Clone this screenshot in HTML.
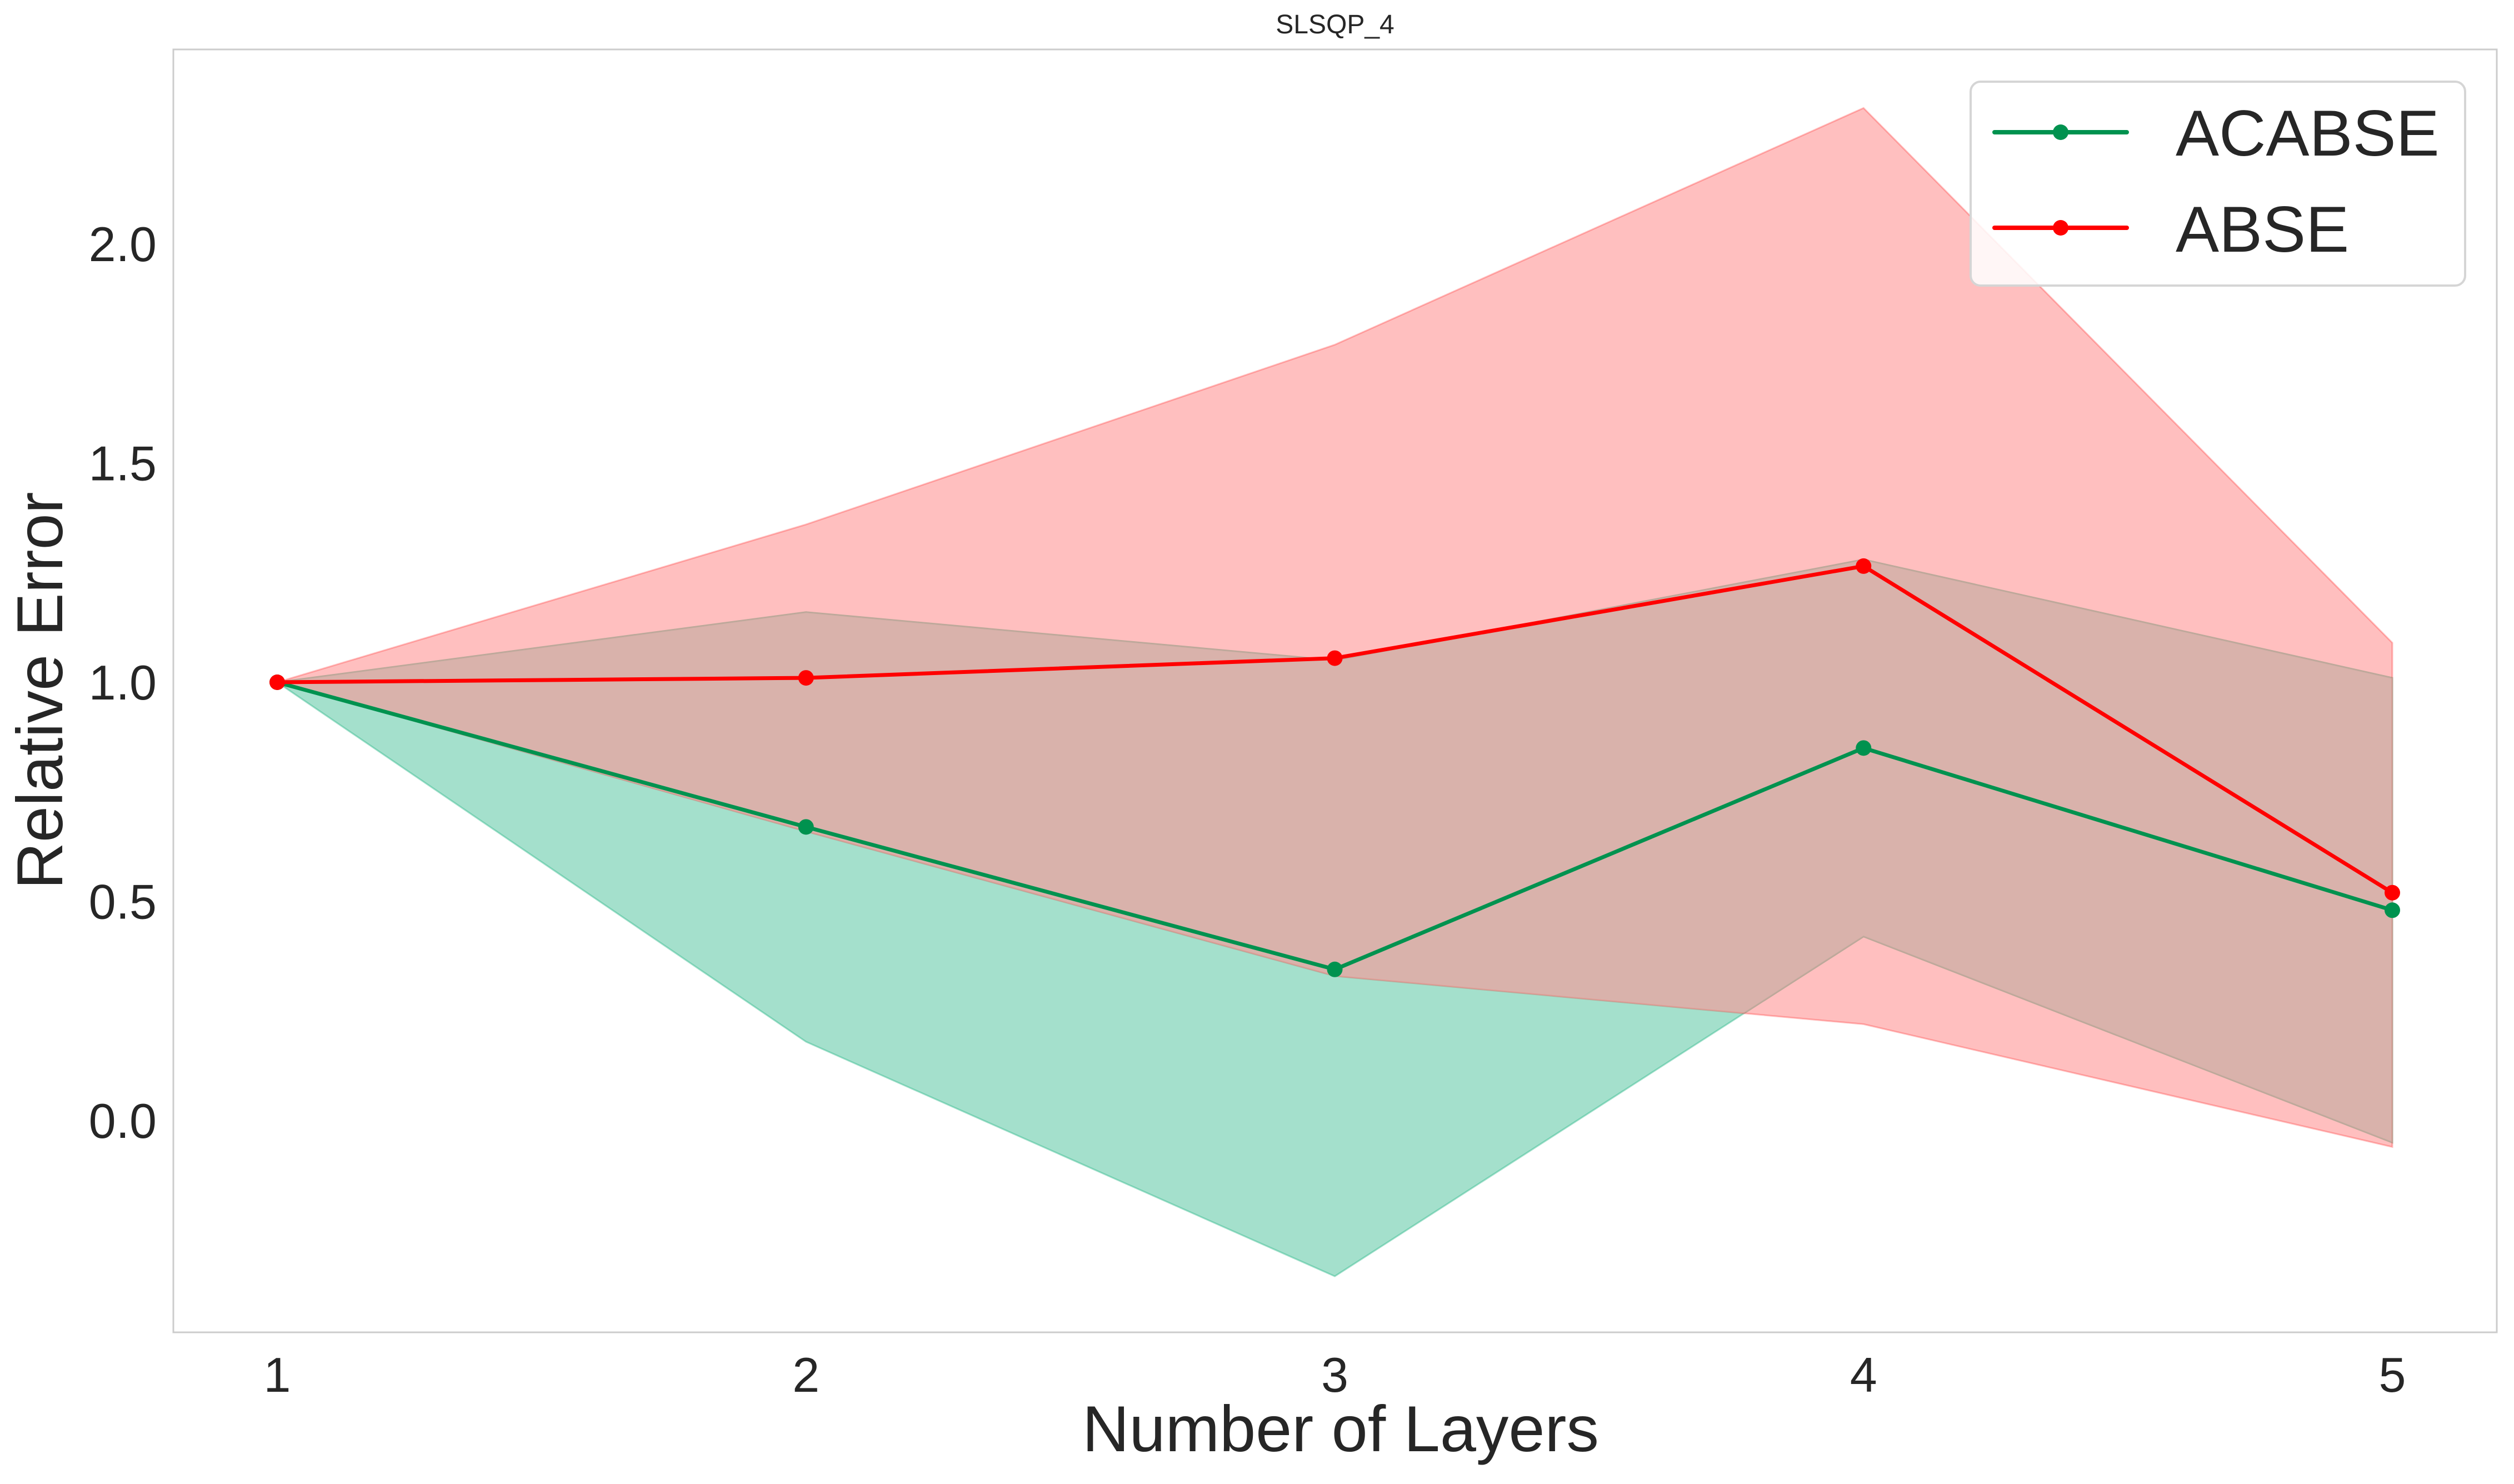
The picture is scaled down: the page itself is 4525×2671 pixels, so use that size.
<!DOCTYPE html>
<html><head><meta charset="utf-8"><style>
html,body{margin:0;padding:0;background:#fff}
svg{display:block;font-family:"Liberation Sans",sans-serif}
</style></head><body>
<svg id="chart" width="4525" height="2671" viewBox="0 0 4525 2671" xmlns="http://www.w3.org/2000/svg">
<defs><clipPath id="redClip"><polygon id="redClipPoly" points=""/></clipPath></defs>
<rect x="0" y="0" width="4525" height="2671" fill="#fff"/>
<text x="2403" y="60" font-size="48" text-anchor="middle" fill="#262626">SLSQP_4</text>
<g id="bands"></g>
<g id="lines"></g>
<rect x="312" y="89" width="4182" height="2309" fill="none" stroke="#cccccc" stroke-width="3"/>
<g id="xticks"></g>
<g id="yticks"></g>
<text x="2413" y="2612" font-size="117" text-anchor="middle" fill="#262626">Number of Layers</text>
<text transform="translate(112,1243) rotate(-90)" font-size="117" text-anchor="middle" fill="#262626">Relative Error</text>
<g>
<rect x="3547" y="147" width="890" height="367" rx="18" fill="#fff" fill-opacity="0.85" stroke="#d5d5d5" stroke-width="4"/>
<g>
<line x1="3590" y1="238" x2="3828" y2="238" stroke="#00924f" stroke-width="8" stroke-linecap="round"/>
<circle cx="3709" cy="238" r="14" fill="#00924f"/>
<text x="3916" y="280" font-size="117" fill="#262626">ACABSE</text></g>
<g>
<line x1="3590" y1="410" x2="3828" y2="410" stroke="#ff0000" stroke-width="8" stroke-linecap="round"/>
<circle cx="3709" cy="410" r="14" fill="#ff0000"/>
<text x="3916" y="453" font-size="117" fill="#262626">ABSE</text></g>
</g>
</svg>
<script>
const layers = [1, 2, 3, 4, 5];
const acabseMean = [1.0, 0.67, 0.345, 0.85, 0.48];
const acabseUpper = [1.0, 1.16, 1.05, 1.28, 1.01];
const acabseLower = [1.0, 0.18, -0.355, 0.42, -0.05];
const abseMean = [1.0, 1.01, 1.055, 1.265, 0.52];
const abseUpper = [1.0, 1.36, 1.77, 2.31, 1.09];
const abseLower = [1.0, 0.66, 0.33, 0.22, -0.06];
const xTickLabels = ["1", "2", "3", "4", "5"];
const yTickValues = [0.0, 0.5, 1.0, 1.5, 2.0];
const yTickLabels = ["0.0", "0.5", "1.0", "1.5", "2.0"];

const NS = "http://www.w3.org/2000/svg";
function xs(v){ return 499 + (v - 1) * (4306 - 499) / 4; }
function ys(v){ return 2017 - v * 789; }
function mk(tag, attrs, parent){ const e = document.createElementNS(NS, tag); for (const k in attrs) e.setAttribute(k, attrs[k]); parent.appendChild(e); return e; }
function bandPts(up, lo){
  return layers.map((l,i)=>xs(l)+','+ys(up[i])).concat(layers.slice().reverse().map((l,j)=>{const i=layers.length-1-j;return xs(l)+','+ys(lo[i]);})).join(' ');
}

const bands = document.getElementById('bands');
function band(up, lo, fill, op, name){
  const p = mk('polygon', {points: bandPts(up, lo), fill: fill, 'fill-opacity': op, stroke: fill, 'stroke-opacity': op, 'stroke-width': 3}, bands);
  
  
}
band(acabseUpper, acabseLower, '#22b383', 0.41, 'acabse-band');
band(abseUpper, abseLower, '#ff0000', 0.25, 'abse-band');
document.getElementById('redClipPoly').setAttribute('points', bandPts(abseUpper, abseLower));
const ov = mk('polygon', {points: bandPts(acabseUpper, acabseLower), fill: '#ffbfc0', 'fill-opacity': 0.45, 'clip-path': 'url(#redClip)'}, bands);



const lines = document.getElementById('lines');
function series(vals, color, name){
  const pl = mk('polyline', {points: layers.map((l,i)=>xs(l)+','+ys(vals[i])).join(' '), fill: 'none', stroke: color, 'stroke-width': 7, 'stroke-linejoin': 'round'}, lines);
  
  
  layers.forEach((l,i)=>{
    const c = mk('circle', {cx: xs(l), cy: ys(vals[i]), r: 14, fill: color}, lines);
    
    
  });
}
series(acabseMean, '#00924f', 'acabse');
series(abseMean, '#ff0000', 'abse');

const xt = document.getElementById('xticks');
layers.forEach((l,i)=>{
  const t = mk('text', {x: xs(l), y: 2505, 'font-size': 88, 'text-anchor': 'middle', fill: '#262626'}, xt);
  t.textContent = xTickLabels[i];
  
  
});
const yt = document.getElementById('yticks');
yTickValues.forEach((v,i)=>{
  const t = mk('text', {x: 282, y: ys(v) + 31, 'font-size': 88, 'text-anchor': 'end', fill: '#262626'}, yt);
  t.textContent = yTickLabels[i];
  
  
});
</script>
</body></html>
